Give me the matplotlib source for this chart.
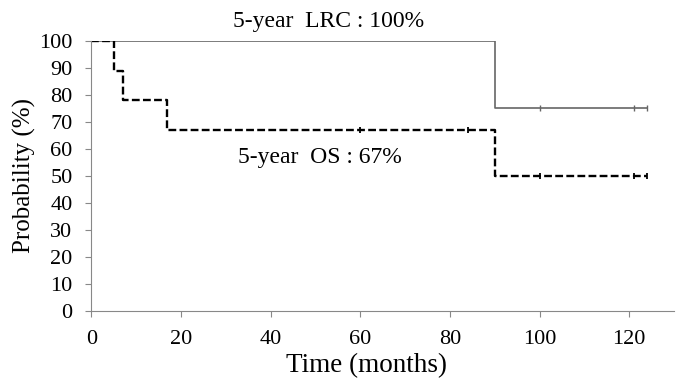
import matplotlib
matplotlib.use('Agg')
import matplotlib.pyplot as plt

plt.rcParams['font.family'] = ['Liberation Serif', 'DejaVu Serif']

# Kaplan-Meier steps (months, %)
lrc_t = [0, 90, 90, 124]
lrc_s = [100, 100, 75, 75]
lrc_cens_t = [100, 121, 124]
lrc_cens_s = [75, 75, 75]

os_t = [0, 5, 5, 7, 7, 17, 17, 90, 90, 124]
os_s = [100, 100, 89, 89, 78, 78, 67, 67, 50, 50]
os_cens_t = [60, 84, 100, 121, 124]
os_cens_s = [67, 67, 50, 50, 50]

fig = plt.figure(figsize=(6.76, 3.83), dpi=100)
ax = fig.add_axes([0.135, 0.188, 0.862, 0.705])

ax.plot(lrc_t, lrc_s, color='#666666', lw=1.2)
ax.plot(lrc_cens_t, lrc_cens_s, ls='none', marker='|', ms=4, color='#666666', mew=1)
ax.plot(os_t, os_s, color='black', lw=1.7, ls=(0, (3.3, 1.4)))
ax.plot(os_cens_t, os_cens_s, ls='none', marker='|', ms=4, color='black', mew=1.3)

ax.set_xlim(0, 130)
ax.set_ylim(0, 100)
ax.set_xticks(range(0, 121, 20))
ax.set_yticks(range(0, 101, 10))
for s in ['top', 'right']:
    ax.spines[s].set_visible(False)
for s in ['left', 'bottom']:
    ax.spines[s].set_color('#888888')
ax.tick_params(colors='#888888', labelcolor='black', labelsize=16, length=4.5)
ax.tick_params(axis='y', pad=9)
ax.tick_params(axis='x', pad=9)
ax.set_xlabel('Time (months)', fontsize=19.5)
ax.xaxis.set_label_coords(0.472, -0.155)
ax.xaxis.label.set_va('top')
ax.set_ylabel('Probability (%)', fontsize=18, labelpad=2)

ax.text(53, 103.5, '5-year  LRC : 100%', fontsize=17, ha='center', va='bottom', clip_on=False)
ax.text(51, 57, '5-year  OS : 67%', fontsize=17, ha='center', va='center')

fig.savefig('out.png', dpi=100)
